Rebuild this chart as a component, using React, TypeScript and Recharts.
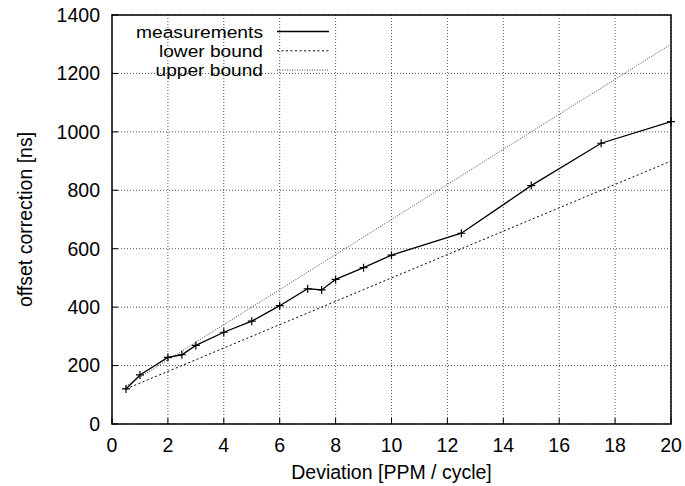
import { LineChart, Line, XAxis, YAxis, CartesianGrid, ReferenceArea, Legend } from "recharts";

const devX = [0.5, 1, 2, 2.5, 3, 4, 5, 6, 7, 7.5, 8, 9, 10, 12.5, 15, 17.5, 20];
const offsetNs = [120, 168, 228, 237, 269, 314, 352, 405, 463, 459, 495, 535, 578, 653, 816, 961, 1035];
const boundX = [0.5, 20];
const lowerNs = [120, 900];
const upperNs = [130, 1300];
const xTicks = [0, 2, 4, 6, 8, 10, 12, 14, 16, 18, 20];
const yTicks = [0, 200, 400, 600, 800, 1000, 1200, 1400];

const measured = devX.map((x, i) => ({ x, y: offsetNs[i] }));
const lower = boundX.map((x, i) => ({ x, y: lowerNs[i] }));
const upper = boundX.map((x, i) => ({ x, y: upperNs[i] }));

const FONT = "'Liberation Sans', Arial, Helvetica, sans-serif";
const FS = 19.5;

const Cross = (p: any) => {
  const { cx, cy, index } = p;
  if (cx == null || cy == null) return <g key={`c-${index}`} />;
  return (
    <path key={`c-${index}`} d={`M${cx - 4},${cy}h8M${cx},${cy - 4}v8`} stroke="#000" strokeWidth={1.2} fill="none" />
  );
};

// key rows: gnuplot packs them tightly, so a slightly smaller font stretched to the original width
const legendRows = [
  { name: "measurements", w: 127, dash: undefined as string | undefined, color: "#000" },
  { name: "lower bound", w: 104, dash: "2 2.5", color: "#000" },
  { name: "upper bound", w: 107.5, dash: "1 1.5", color: "#444" },
];

function KeyBox() {
  return (
    <svg width={685} height={90} style={{ display: "block" }}>
      {legendRows.map((r, i) => {
        const cy = 31.5 + i * 19.3;
        return (
          <g key={r.name}>
            <text
              x={263}
              y={cy}
              dy="0.36em"
              textAnchor="end"
              fontSize={17.2}
              textLength={r.w}
              lengthAdjust="spacingAndGlyphs"
              fontFamily={FONT}
              fill="#000"
            >
              {r.name}
            </text>
            <line x1={277} x2={329} y1={cy} y2={cy} stroke={r.color} strokeWidth={r.dash ? 1 : 1.3} strokeDasharray={r.dash} />
          </g>
        );
      })}
    </svg>
  );
}

const tickStyle = { fontSize: FS, fill: "#000", fontFamily: FONT };

export default function App() {
  return (
    <div style={{ position: "absolute", left: 0, top: 0, width: 685, height: 486, background: "#fff", fontFamily: FONT }}>
      <LineChart width={685} height={486} margin={{ top: 15, right: 14, bottom: 0, left: 0 }}>
        <CartesianGrid stroke="#555" strokeDasharray="1 2" />
        <XAxis
          type="number"
          dataKey="x"
          domain={[0, 20]}
          ticks={xTicks}
          height={62}
          tickSize={-6}
          tickMargin={20}
          tickLine={{ stroke: "#000" }}
          axisLine={false}
          tick={tickStyle}
          label={{ value: "Deviation [PPM / cycle]", position: "insideBottom", offset: 7, fontSize: FS, fill: "#000", fontFamily: FONT }}
        />
        <XAxis
          xAxisId="top"
          orientation="top"
          type="number"
          domain={[0, 20]}
          ticks={xTicks}
          height={0}
          tickSize={-6}
          tickLine={{ stroke: "#000" }}
          axisLine={false}
          tick={false}
        />
        <YAxis
          type="number"
          domain={[0, 1400]}
          ticks={yTicks}
          width={112}
          tickSize={-6}
          tickMargin={18}
          tickLine={{ stroke: "#000" }}
          axisLine={false}
          tick={tickStyle}
          label={{
            value: "offset correction [ns]",
            angle: -90,
            position: "insideLeft",
            offset: 25,
            fontSize: FS,
            fill: "#000",
            fontFamily: FONT,
            style: { textAnchor: "middle" },
          }}
        />
        <YAxis
          yAxisId="right"
          orientation="right"
          type="number"
          domain={[0, 1400]}
          ticks={yTicks}
          width={0}
          tickSize={-6}
          tickLine={{ stroke: "#000" }}
          axisLine={false}
          tick={false}
        />
        <ReferenceArea x1={0} x2={20} y1={0} y2={1400} fill="none" fillOpacity={0} stroke="#000" strokeWidth={1.5} ifOverflow="visible" />
        <Line data={upper} dataKey="y" name="upper bound" type="linear" stroke="#444" strokeWidth={1} strokeDasharray="1 1.5" dot={false} isAnimationActive={false} />
        <Line data={lower} dataKey="y" name="lower bound" type="linear" stroke="#000" strokeWidth={1} strokeDasharray="2 2.5" dot={false} isAnimationActive={false} />
        <Line data={measured} dataKey="y" name="measurements" type="linear" stroke="#000" strokeWidth={1.3} dot={Cross} activeDot={false} isAnimationActive={false} />
        <Legend
          layout="vertical"
          align="center"
          verticalAlign="middle"
          wrapperStyle={{ left: 0, top: 0, width: 685, height: 90, pointerEvents: "none" }}
          content={() => <KeyBox />}
        />
      </LineChart>
    </div>
  );
}
